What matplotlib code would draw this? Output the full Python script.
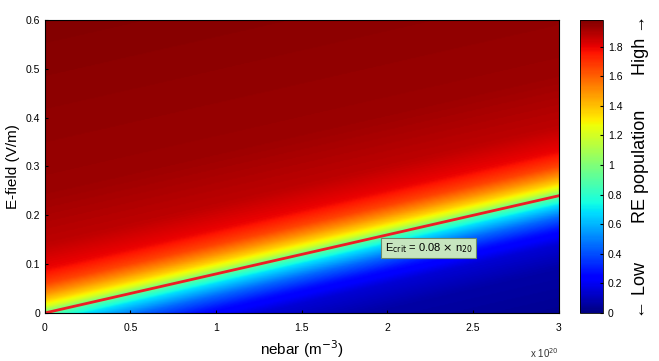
import numpy as np
import matplotlib.pyplot as plt

plt.rcParams['font.family'] = ['Liberation Sans', 'DejaVu Sans']

# distance from the critical line (E - 0.08*n20) vs RE population
dE_pts = [-0.60, -0.25, -0.15, -0.10, -0.07, -0.045, -0.02, 0.0, 0.012, 0.025, 0.04, 0.06, 0.09, 0.14, 0.25, 0.60]
pop_pts = [0.02, 0.03, 0.07, 0.15, 0.28, 0.45, 0.68, 0.95, 1.20, 1.36, 1.50, 1.66, 1.79, 1.87, 1.93, 1.97]

ecrit_slope = 0.08
nebar = np.linspace(0, 3, 300)      # x 1e20 m^-3
efield = np.linspace(0, 0.6, 300)   # V/m

N, E = np.meshgrid(nebar, efield)
pop = np.interp(E - ecrit_slope * N, dE_pts, pop_pts)

fig = plt.figure(figsize=(6.59, 3.61), dpi=100)
ax = fig.add_axes([0.068, 0.133, 0.780, 0.812])
cax = fig.add_axes([0.880, 0.133, 0.035, 0.812])

im = ax.imshow(pop, origin='lower', extent=[0, 3, 0, 0.6], aspect='auto',
               cmap='jet', vmin=0, vmax=1.98, interpolation='bilinear')
ax.plot(nebar, ecrit_slope * nebar, color='#ee1c24', lw=2)

ax.set_xlim(0, 3)
ax.set_ylim(0, 0.6)
ax.set_xticks([0, 0.5, 1, 1.5, 2, 2.5, 3])
ax.set_xticklabels(['0', '0.5', '1', '1.5', '2', '2.5', '3'])
ax.set_yticks([0, 0.1, 0.2, 0.3, 0.4, 0.5, 0.6])
ax.set_yticklabels(['0', '0.1', '0.2', '0.3', '0.4', '0.5', '0.6'])
ax.tick_params(labelsize=7.5, length=2, direction='in')
ax.tick_params(axis='x', pad=7)
ax.set_xlabel('nebar (m$^{-3}$)', fontsize=11, labelpad=4)
ax.set_ylabel('E-field (V/m)', fontsize=11, labelpad=4)
ax.text(1.0, -0.115, r'x 10$^{20}$', transform=ax.transAxes, ha='right',
        va='top', fontsize=7, color='#333333')

ax.text(2.24, 0.133, r'E$_{\mathrm{crit}}$ = 0.08 $\times$ n$_{\mathrm{20}}$', fontsize=8,
        ha='center', va='center',
        bbox=dict(boxstyle='square,pad=0.3', fc='#c6e5bf', ec='#6a8a6a', lw=0.8))

cb = fig.colorbar(im, cax=cax)
cb.set_ticks([0, 0.2, 0.4, 0.6, 0.8, 1, 1.2, 1.4, 1.6, 1.8])
cb.set_ticklabels(['0', '0.2', '0.4', '0.6', '0.8', '1', '1.2', '1.4', '1.6', '1.8'])
cb.ax.tick_params(labelsize=7.5, length=2, direction='in')
cb.outline.set_linewidth(0.6)

fig.text(0.972, 0.12, '\u2190 Low', rotation=90, ha='center', va='bottom', fontsize=13)
fig.text(0.972, 0.54, 'RE population', rotation=90, ha='center', va='center', fontsize=13)
fig.text(0.972, 0.96, 'High \u2192', rotation=90, ha='center', va='top', fontsize=13)

fig.savefig('out.png', dpi=100)
